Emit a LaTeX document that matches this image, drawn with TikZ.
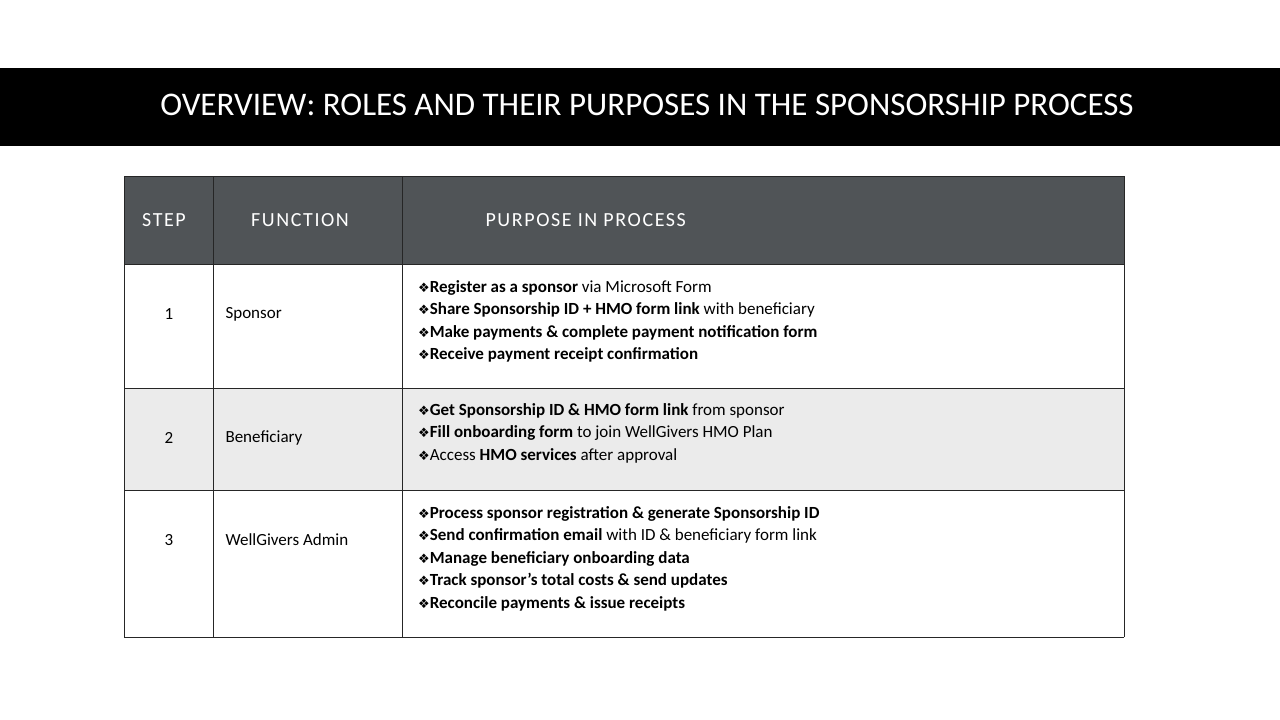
\documentclass[tikz,border=0pt]{standalone}
\usepackage{fontspec}
\setmainfont{Carlito}
\newfontfamily\djv{DejaVu Sans}
\newcommand{\bl}{{\djv\fontsize{13}{15}\selectfont ❖}}
\begin{document}
\begin{tikzpicture}[x=1pt,y=-1pt,
  cell/.style={anchor=west,font=\fontsize{17}{22}\selectfont},
  hdr/.style={text=white,font=\fontsize{20}{24}\selectfont\addfontfeatures{LetterSpace=8}},
  bul/.style={anchor=north west,align=left,font=\fontsize{17}{22.6}\selectfont,inner sep=0pt},
  grid/.style={draw=black!85,line width=0.9pt}]
\useasboundingbox (0,0) rectangle (1280,720);
\fill[white] (0,0) rectangle (1280,720);
\fill[black] (0,68) rectangle (1280,146);
\node[text=white,font=\fontsize{33}{38}\selectfont] (title) at (647,105) {OVERVIEW: ROLES AND THEIR PURPOSES IN THE SPONSORSHIP PROCESS};
% table backgrounds
\fill[fill={rgb,255:red,80;green,84;blue,87}] (124,176) rectangle (1124,264);
\fill[fill={rgb,255:red,235;green,235;blue,235}] (124,388) rectangle (1124,490);
% grid
\draw[grid] (124,176) -- (1124,176);
\draw[grid] (124,264) -- (1124,264);
\draw[grid] (124,388) -- (1124,388);
\draw[grid] (124,490) -- (1124,490);
\draw[grid] (124,637) -- (1124,637);
\foreach \x in {124,213,402,1124} \draw[grid] (\x,176) -- (\x,637);
% header
\node[hdr] (h1) at (164,220) {STEP};
\node[hdr] (h2) at (300,220) {FUNCTION};
\node[hdr,anchor=west] (h3) at (482,220) {PURPOSE IN PROCESS};
% rows
\node[cell,anchor=center] (s1) at (169,314) {1};
\node[cell] (f1) at (222,314) {Sponsor};
\node[bul] (p1) at (418,280) {\bl\textbf{Register as a sponsor} via Microsoft Form\\
\bl\textbf{Share Sponsorship ID + HMO form link} with beneficiary\\
\bl\textbf{Make payments \& complete payment notification form}\\
\bl\textbf{Receive payment receipt confirmation}};
\node[cell,anchor=center] (s2) at (169,438) {2};
\node[cell] (f2) at (222,438) {Beneficiary};
\node[bul] (p2) at (418,403) {\bl\textbf{Get Sponsorship ID \& HMO form link} from sponsor\\
\bl\textbf{Fill onboarding form} to join WellGivers HMO Plan\\
\bl Access \textbf{HMO services} after approval};
\node[cell,anchor=center] (s3) at (169,540) {3};
\node[cell] (f3) at (222,540) {WellGivers Admin};
\node[bul] (p3) at (418,506) {\bl\textbf{Process sponsor registration \& generate Sponsorship ID}\\
\bl\textbf{Send confirmation email} with ID \& beneficiary form link\\
\bl\textbf{Manage beneficiary onboarding data}\\
\bl\textbf{Track sponsor’s total costs \& send updates}\\
\bl\textbf{Reconcile payments \& issue receipts}};
\end{tikzpicture}
\end{document}
